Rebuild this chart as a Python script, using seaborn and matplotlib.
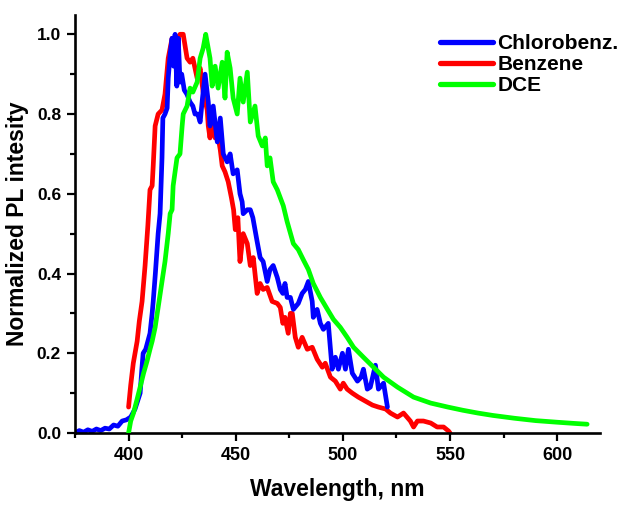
import matplotlib
matplotlib.use("Agg")
import matplotlib.pyplot as plt
from matplotlib.ticker import MultipleLocator
import seaborn as sns
import pandas as pd

# Photoluminescence spectra (wavelength in nm, normalized intensity)
chloro_wl = [375, 377, 379, 381, 383, 385, 387, 389, 391, 393, 395, 397, 399, 401, 403,
             404.5, 405.4, 406.2, 406.8, 408, 409, 410, 411, 411.5, 412.5, 413.8, 414.7,
             415.6, 416, 417, 418, 418.5, 419.4, 420.3, 421, 421.7, 422.5, 423.2, 424,
             424.8, 426, 427.2, 428.7, 430, 431, 432.3, 433.4, 434.5, 435.7, 437.2, 438,
             439.5, 441.4, 442.8, 444.2, 446, 447.4, 448.8, 450.7, 452, 453, 453.5, 455.4,
             456.8, 458, 460, 461.4, 462.8, 464.7, 466, 467.5, 469.4, 470.8, 472, 473, 474,
             475.5, 476.9, 479.2, 481, 482.5, 483.9, 485.7, 486.2, 488, 489.5, 490.9, 493.2,
             495, 496.5, 497.9, 499.8, 501.2, 502.6, 504.4, 506.8, 508.5, 509.6, 511.4,
             512.8, 515.2, 516.6, 519, 520.8]
chloro_int = [0.0, 0.006, 0.002, 0.008, 0.004, 0.01, 0.006, 0.012, 0.01, 0.02, 0.017, 0.03,
              0.033, 0.04, 0.06, 0.085, 0.10, 0.16, 0.20, 0.21, 0.23, 0.25, 0.30, 0.33, 0.40,
              0.50, 0.55, 0.69, 0.79, 0.80, 0.815, 0.89, 0.95, 0.99, 0.92, 1.0, 0.87, 0.99,
              0.88, 0.90, 0.86, 0.85, 0.83, 0.82, 0.80, 0.80, 0.78, 0.84, 0.90, 0.83, 0.77,
              0.82, 0.73, 0.79, 0.70, 0.68, 0.70, 0.65, 0.66, 0.60, 0.58, 0.55, 0.56, 0.56,
              0.54, 0.48, 0.44, 0.43, 0.38, 0.41, 0.42, 0.39, 0.36, 0.35, 0.375, 0.34, 0.34,
              0.31, 0.325, 0.35, 0.36, 0.38, 0.33, 0.29, 0.31, 0.275, 0.26, 0.275, 0.16, 0.19,
              0.16, 0.20, 0.16, 0.21, 0.15, 0.13, 0.14, 0.16, 0.11, 0.115, 0.17, 0.11, 0.125,
              0.065]

benzene_wl = [400, 401, 402.2, 404, 405, 406.3, 407.7, 409, 410, 411, 411.5, 412.4, 413.8,
              415.6, 417, 418.5, 420.3, 421.7, 423, 424, 425.5, 427.3, 428.7, 430, 432,
              433.4, 434.8, 436.7, 437.2, 438, 439, 440.4, 441.4, 442.8, 443.7, 445, 446.5,
              448, 449, 449.8, 451, 452, 453.5, 455.4, 456.8, 458.2, 460, 461.4, 462.8,
              464.7, 467, 469.4, 470.8, 472, 473, 474.5, 475.5, 476.4, 477.8, 479.2, 481,
              483.4, 485.7, 488, 490.4, 491.8, 494.2, 496.5, 498.8, 500.2, 502, 504.4, 507.2,
              510.5, 513.8, 516.6, 520, 522.2, 525.5, 528.3, 531.5, 533, 534.8, 537.6, 541,
              544, 547, 549.3, 550]
benzene_int = [0.065, 0.12, 0.175, 0.23, 0.28, 0.33, 0.42, 0.52, 0.61, 0.62, 0.67, 0.77,
               0.80, 0.81, 0.85, 0.94, 0.99, 0.97, 0.99, 1.0, 1.0, 0.94, 0.93, 0.94, 0.89,
               0.915, 0.855, 0.81, 0.77, 0.74, 0.80, 0.74, 0.755, 0.71, 0.67, 0.655, 0.63,
               0.59, 0.56, 0.51, 0.54, 0.43, 0.50, 0.475, 0.42, 0.44, 0.35, 0.375, 0.36,
               0.365, 0.33, 0.325, 0.315, 0.275, 0.29, 0.25, 0.30, 0.30, 0.24, 0.215, 0.24,
               0.21, 0.215, 0.185, 0.165, 0.175, 0.14, 0.13, 0.11, 0.125, 0.11, 0.10, 0.09,
               0.08, 0.07, 0.065, 0.06, 0.05, 0.04, 0.05, 0.03, 0.015, 0.03, 0.03, 0.025,
               0.015, 0.015, 0.005, 0.0]

dce_wl = [400, 401, 402.3, 404, 405.4, 407, 408.6, 410, 411, 412.4, 413.8, 415.6, 417,
          418.5, 419.4, 420.3, 420.8, 422.6, 424, 425, 425.5, 427.3, 428.7, 430, 432, 433.4,
          434.8, 436, 437, 438, 439, 440.4, 441.8, 443.7, 445, 446, 447.4, 448.8, 450.7,
          452, 453.5, 455.4, 456.8, 459, 460.5, 462.4, 463.8, 464.7, 466, 467.5, 469.4,
          470.8, 472.2, 474, 476.9, 479.2, 481.5, 483.9, 486.2, 489.5, 492.8, 495.6, 498.8,
          502, 505, 509.6, 514.3, 519, 525.5, 533, 541, 549, 556, 563, 570, 580, 590, 600,
          608, 614]
dce_int = [0.0, 0.03, 0.05, 0.085, 0.115, 0.15, 0.18, 0.21, 0.23, 0.265, 0.315, 0.38, 0.43,
           0.50, 0.55, 0.56, 0.62, 0.69, 0.70, 0.77, 0.80, 0.82, 0.865, 0.855, 0.88, 0.94,
           0.965, 1.0, 0.97, 0.94, 0.87, 0.92, 0.865, 0.93, 0.84, 0.955, 0.915, 0.84, 0.80,
           0.89, 0.83, 0.905, 0.78, 0.82, 0.745, 0.72, 0.74, 0.67, 0.69, 0.63, 0.61, 0.59,
           0.57, 0.53, 0.475, 0.46, 0.435, 0.41, 0.375, 0.34, 0.31, 0.285, 0.265, 0.24,
           0.215, 0.19, 0.165, 0.14, 0.115, 0.09, 0.075, 0.065, 0.057, 0.05, 0.044, 0.037,
           0.031, 0.027, 0.024, 0.022]

series_names = ["Chlorobenz.", "Benzene", "DCE"]
series_colors = ["#0000ff", "#ff0000", "#00ff00"]
series_order = [2, 1, 3]  # stacking order of the curves

xticks = [400, 450, 500, 550, 600]
yticks = [0.0, 0.2, 0.4, 0.6, 0.8, 1.0]

sns.set_style("ticks")
plt.rcParams["font.family"] = ["Liberation Sans", "DejaVu Sans"]
plt.rcParams["font.weight"] = "bold"
plt.rcParams["text.color"] = "black"
plt.rcParams["axes.labelcolor"] = "black"
plt.rcParams["xtick.color"] = "black"
plt.rcParams["ytick.color"] = "black"

fig = plt.figure(figsize=(6.25, 5.05), dpi=100)
ax = fig.add_axes([0.12, 0.1426, 0.84, 0.8274])

datasets = [(chloro_wl, chloro_int), (benzene_wl, benzene_int), (dce_wl, dce_int)]
for (wl, inten), name, color, z in zip(datasets, series_names, series_colors, series_order):
    df = pd.DataFrame({"wl": wl, "intensity": inten})
    sns.lineplot(data=df, x="wl", y="intensity", color=color, lw=3.4, label=name,
                 ax=ax, zorder=z, sort=False, estimator=None)

ax.set_xlim(375, 620)
ax.set_ylim(0, 1.048)
ax.set_xticks(xticks)
ax.set_yticks(yticks)
ax.xaxis.set_minor_locator(MultipleLocator(25))
ax.yaxis.set_minor_locator(MultipleLocator(0.1))
ax.set_xticklabels([str(t) for t in xticks], fontsize=13, fontweight="bold")
ax.set_yticklabels([f"{t:.1f}" for t in yticks], fontsize=12.5, fontweight="bold")
ax.tick_params(which="major", direction="out", length=6, width=1.6, color="black",
               labelcolor="black", pad=4)
ax.tick_params(which="minor", direction="out", length=3.5, width=1.6, color="black")

for side in ["top", "right"]:
    ax.spines[side].set_visible(False)
for side in ["left", "bottom"]:
    ax.spines[side].set_linewidth(1.9)
    ax.spines[side].set_color("black")

ax.set_xlabel("Wavelength, nm", fontsize=16.5, fontweight="bold", labelpad=10,
              color="black")
ax.set_ylabel("Normalized PL intesity", fontsize=16.5, fontweight="bold", labelpad=6,
              color="black")

leg = ax.legend(loc="upper left", bbox_to_anchor=(0.704, 0.932),
                bbox_transform=fig.transFigure, frameon=False, fontsize=15,
                handlelength=2.55, handletextpad=0.2, labelspacing=0.09,
                borderpad=0, borderaxespad=0)
for text in leg.get_texts():
    text.set_fontweight("bold")
    text.set_color("black")
for line in leg.get_lines():
    line.set_linewidth(3.8)

fig.savefig("out.png", dpi=100)
